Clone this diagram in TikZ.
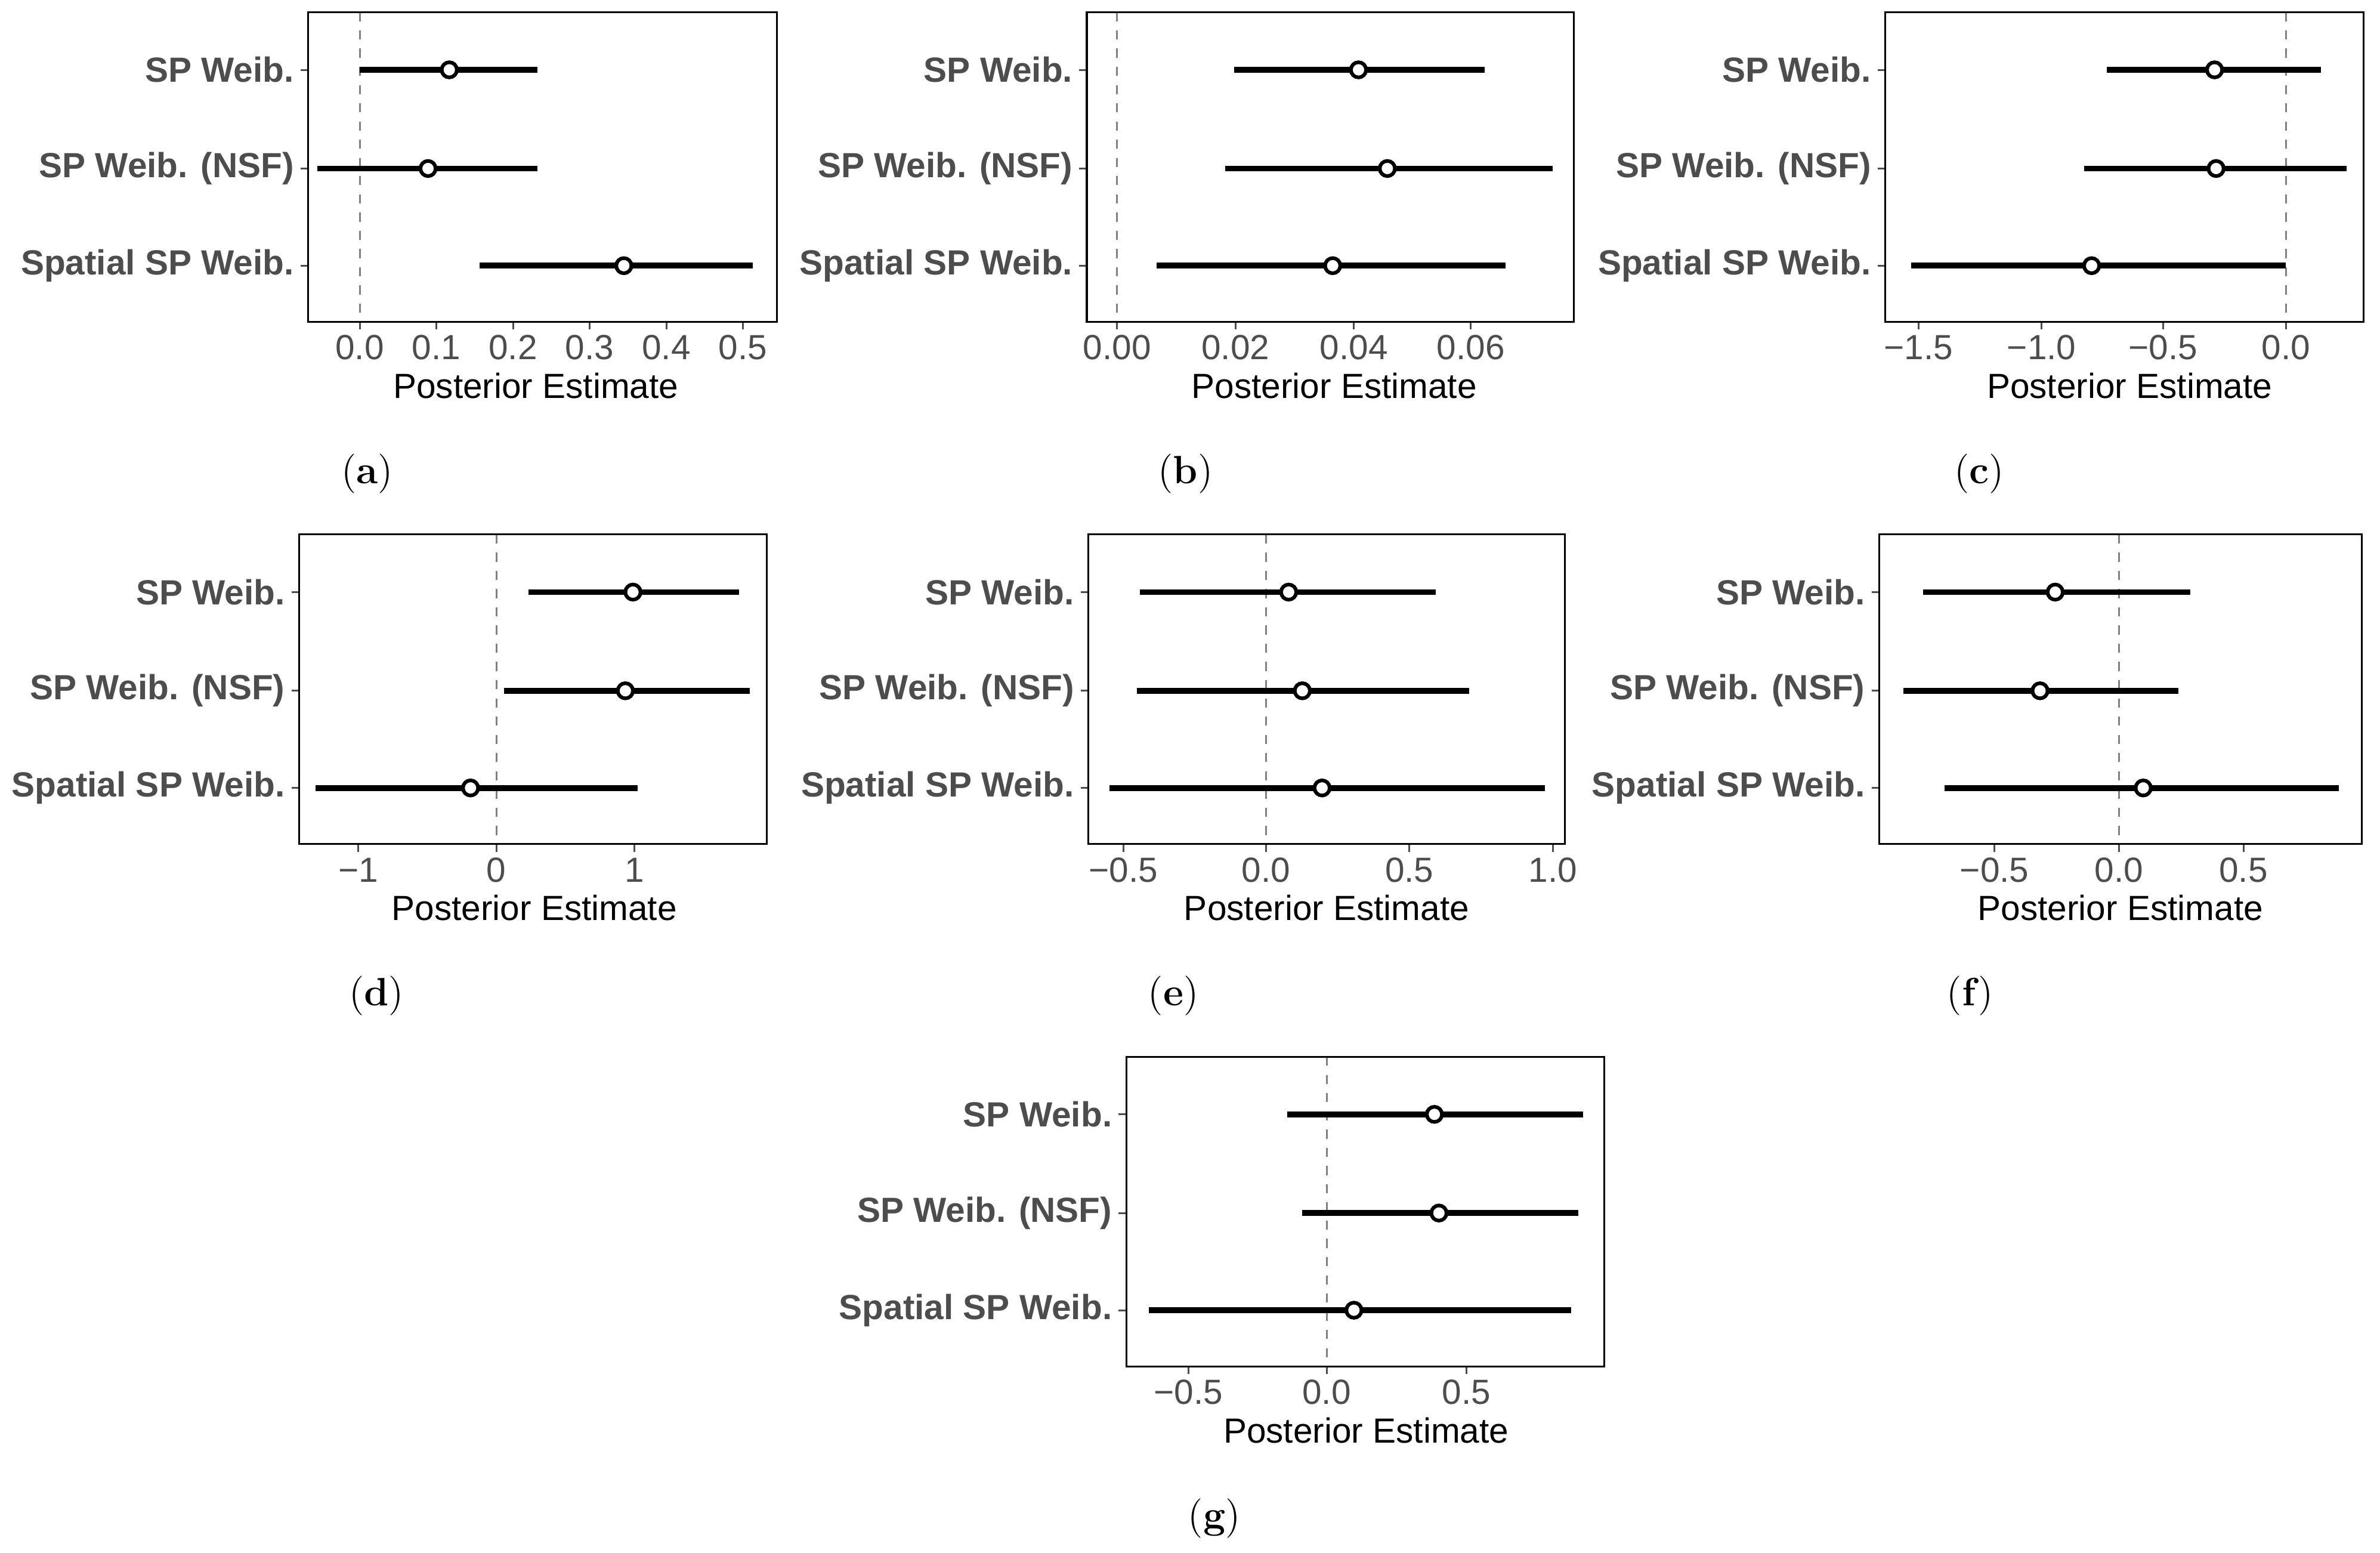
\documentclass[tikz,border=0pt]{standalone}
\usepackage{fontspec}
\setsansfont{Liberation Sans}
\definecolor{tg}{HTML}{4D4D4D}
\tikzset{x=0.5pt,y=-0.5pt,
  frame/.style={draw=black,line width=0.6pt},
  zl/.style={draw=gray,dashed,line width=0.6pt},
  tk/.style={draw=tg,line width=0.6pt},
  bar/.style={line width=1.9pt},
  ptm/.style={circle,draw,fill=white,line width=1.2pt,minimum size=5pt,inner sep=0pt},
  ylab/.style={anchor=east,font=\sffamily\bfseries\fontsize{11.5}{13}\selectfont,text=tg,inner sep=0pt},
  tl/.style={font=\sffamily\fontsize{11.5}{13}\selectfont,text=tg,inner sep=0pt},
  pe/.style={font=\sffamily\fontsize{11.5}{13}\selectfont,inner sep=0pt},
  let/.style={font=\fontsize{13}{15}\selectfont,inner sep=0pt}}
\newcommand\mypanel[9]{%
  \draw[zl] (#4,#3) -- (#4,{#3+204});
  \foreach \yo/\lab [count=\i] in {38/{SP Weib.},103/{SP Weib. (NSF)},167/{Spatial SP Weib.}}{
    \draw[tk] ({#1-5},{#3+\yo}) -- (#1,{#3+\yo});
    \node[ylab] (yl#9\i) at ({#1-9},{#3+\yo}) {\lab};}
  \foreach \p/\l [count=\i] in {#5}{
    \draw[tk] (\p,{#3+204}) -- (\p,{#3+209});
    \node[tl] (tl#9\i) at (\p,{#3+221}) {\l};}
  \foreach \yo/\a/\b/\c [count=\i] in {#6}{
    \draw[bar] (\a,{#3+\yo}) -- (\b,{#3+\yo});
    \node[ptm] (pt#9\i) at (\c,{#3+\yo}) {};}
  \draw[frame] (#1,#3) rectangle (#2,{#3+204});
  \node[pe] (pe#9) at (#7,{#3+246}) {Posterior Estimate};
  \node[let] (lt#9) at (#8,{#3+304}) {(\textbf{#9})};
}
\begin{document}
\begin{tikzpicture}
\useasboundingbox[fill=white] (0,0) rectangle (1568,1022.6);
\mypanel{203}{512}{8}{237}{237/0.0,287.5/0.1,338/0.2,388.5/0.3,439/0.4,489.5/0.5}{38/237/354/296,103/209/354/282,167/316/496/411}{353}{242}{a}
\mypanel{716}{1037}{8}{736}{736/0.00,814/0.02,892/0.04,969/0.06}{38/813/978/895,103/807/1023/914,167/762/992/878}{879}{781}{b}
\mypanel{1242}{1557}{8}{1506}{1264/−1.5,1345/−1.0,1425/−0.5,1506/0.0}{38/1388/1529/1459,103/1373/1546/1460,167/1259/1506/1378}{1403}{1304}{c}
\mypanel{197}{505}{352}{327}{236/−1,327/0,418/1}{38/348/487/417,103/332/494/412,167/208/420/310}{352}{248}{d}
\mypanel{717}{1031}{352}{834}{740/−0.5,834/0.0,928.5/0.5,1023/1.0}{38/751/946/849,103/749/968/858,167/731/1018/871}{874}{773}{e}
\mypanel{1238}{1556}{352}{1396}{1314/−0.5,1396/0.0,1478/0.5}{38/1267/1443/1354,103/1254/1435/1344,167/1281/1541/1412}{1397}{1298}{f}
\mypanel{742}{1057}{696}{874}{783/−0.5,874/0.0,966/0.5}{38/848/1043/945,103/858/1040/948,167/757/1035/892}{900}{800}{g}
\end{tikzpicture}
\end{document}
